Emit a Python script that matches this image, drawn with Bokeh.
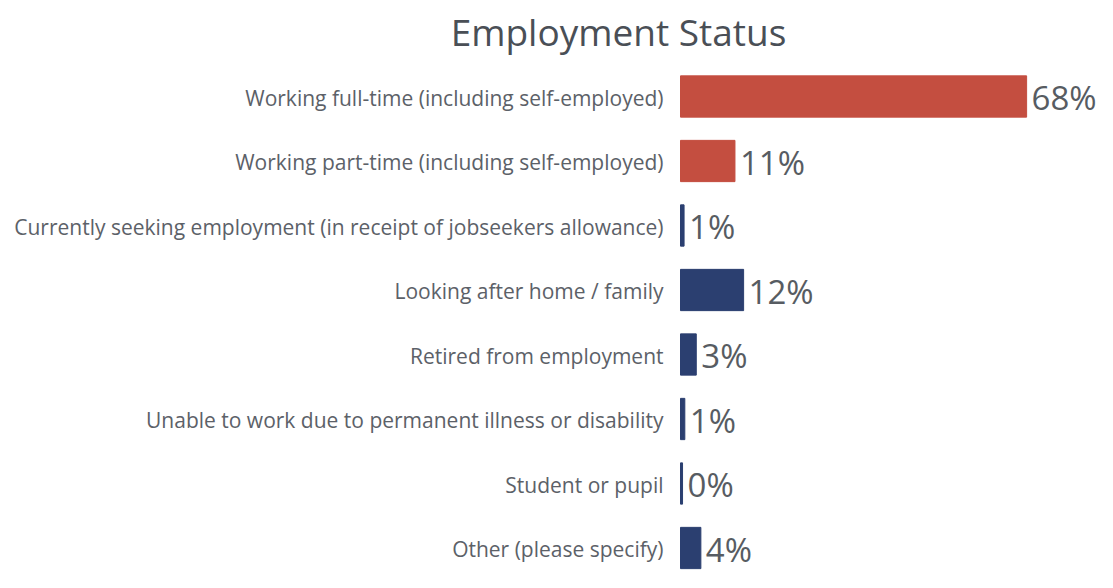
from bokeh.plotting import figure
from bokeh.models import ColumnDataSource, Range1d
from bokeh.core.properties import value
from bokeh.embed import file_html
from bokeh.resources import INLINE

title = "Employment Status"
categories = [
    "Working full-time (including self-employed)",
    "Working part-time (including self-employed)",
    "Currently seeking employment (in receipt of jobseekers allowance)",
    "Looking after home / family",
    "Retired from employment",
    "Unable to work due to permanent illness or disability",
    "Student or pupil",
    "Other (please specify)",
]
percent = [68.0, 10.7, 0.7, 12.4, 3.1, 0.85, 0.4, 4.0]
colors = ["#C44E40", "#C44E40", "#2B3F70", "#2B3F70", "#2B3F70", "#2B3F70", "#2B3F70", "#2B3F70"]

W, H = 1097, 572
px_per_pct = 5.09
bar_left_px = 680
row0_px = 96
row_step = 64.5

x0 = -bar_left_px / px_per_pct
x1 = (W - bar_left_px) / px_per_pct
ytop = -row0_px / row_step
ybot = (H - row0_px) / row_step

p = figure(width=W, height=H, output_backend="svg", toolbar_location=None,
           x_range=Range1d(x0, x1), y_range=Range1d(ybot, ytop),
           min_border=0, min_border_left=0, min_border_right=0,
           min_border_top=0, min_border_bottom=0)
p.axis.visible = False
p.grid.visible = False
p.outline_line_color = None
p.background_fill_color = "white"
p.border_fill_color = "white"

ys = list(range(len(categories)))
src = ColumnDataSource(dict(
    y=ys, v=percent, c=colors, cat=categories,
    lab=[f"{round(v)}%" for v in percent],
    zero=[0] * len(ys),
))

p.hbar(y="y", left=0, right="v", height=0.64, color="c", source=src)

p.text(x="zero", y="y", text="cat", source=src, text_align="right",
       text_baseline="middle", x_offset=-17, y_offset=1, text_font=value("Open Sans"),
       text_font_size="21px", text_color="#5C6168")

p.text(x="v", y="y", text="lab", source=src, text_align="left",
       text_baseline="middle", x_offset=5, y_offset=1, text_font=value("Open Sans"),
       text_font_size="33px", text_color="#575C62")

title_x = (618 - bar_left_px) / px_per_pct
title_y = ytop + 31 / row_step
p.text(x=[title_x], y=[title_y], text=[title], text_align="center",
       text_baseline="middle", text_font=value("Open Sans"),
       text_font_size="37px", text_color="#4A4F56")

open("out.html", "w").write(file_html(p, INLINE))
